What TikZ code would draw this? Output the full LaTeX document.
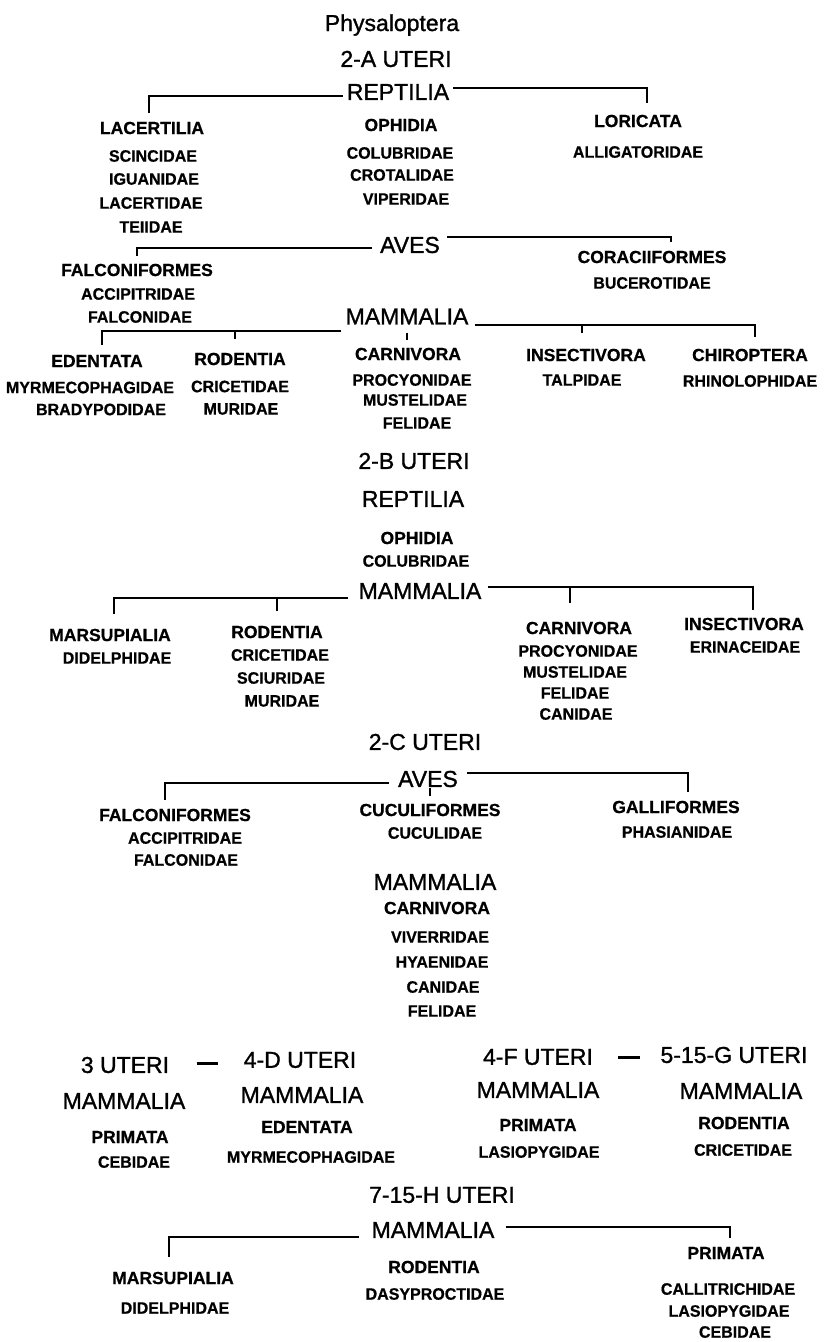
\documentclass[tikz,border=0pt]{standalone}
\usepackage{fontspec}
\setmainfont{Liberation Sans}
\newfontfamily\hdfont{Liberation Sans}[FakeBold=1.2]
\newfontfamily\ordfont{Liberation Sans}[FakeBold=0.7]
\newfontfamily\famfont{Liberation Sans}[FakeStretch=0.97,FakeBold=0.7]
\begin{document}
\begin{tikzpicture}[x=1pt,y=-1pt,
 hd/.style={font=\hdfont\fontsize{23}{25}\selectfont,inner sep=0pt},
 ordn/.style={font=\ordfont\bfseries\fontsize{17.5}{19}\selectfont,inner sep=0pt},
 fam/.style={font=\famfont\bfseries\fontsize{16.5}{18}\selectfont,inner sep=0pt},
 dsh/.style={inner sep=0pt},
 br/.style={line width=2pt},
]
\useasboundingbox[fill=white] (0,0) rectangle (823,1342);

% ---------- title / 2-A ----------
\node[hd,anchor=base] (title) at (392,31) {Physaloptera};
\node[hd] (uA) at (396,59) {2-A UTERI};
\node[hd] (repA) at (398,92) {REPTILIA};
\node[ordn] (lac) at (152,128) {LACERTILIA};
\node[fam] (scin) at (153,156) {SCINCIDAE};
\node[fam] (igu) at (154,179) {IGUANIDAE};
\node[fam] (lact) at (151,203) {LACERTIDAE};
\node[fam] (teii) at (151,227) {TEIIDAE};
\node[ordn] (oph) at (401,125) {OPHIDIA};
\node[fam] (colA) at (400,153) {COLUBRIDAE};
\node[fam] (crot) at (402,175) {CROTALIDAE};
\node[fam] (vip) at (406,199) {VIPERIDAE};
\node[ordn] (lor) at (638,121) {LORICATA};
\node[fam] (alli) at (638,152) {ALLIGATORIDAE};

\coordinate (rAl) at ([xshift=-4pt,yshift=-4pt]repA.west);
\coordinate (rAr) at ([xshift=4pt,yshift=4pt]repA.east);
\draw[br,shorten >=9pt] (rAl) -| ([xshift=-3pt]lac.north);
\draw[br,shorten >=12pt] (rAr) -| ([xshift=9pt]lor.north);

\node[hd] (avA) at (410,245) {AVES};
\node[ordn] (faA) at (137,270) {FALCONIFORMES};
\node[fam] (accA) at (138,294) {ACCIPITRIDAE};
\node[fam] (flcA) at (140,317) {FALCONIDAE};
\node[ordn] (cor) at (652,257) {CORACIIFORMES};
\node[fam] (buc) at (652,283) {BUCEROTIDAE};

\coordinate (aAl) at ([xshift=-8pt,yshift=-3pt]avA.west);
\coordinate (aAr) at ([xshift=7pt,yshift=8pt]avA.east);
\draw[br,shorten >=8pt] (aAl) -| (faA.north);
\draw[br,shorten >=9pt] (aAr) -| ([xshift=19pt]cor.north);

\node[hd] (mamA) at (407,316.5) {MAMMALIA};
\node[ordn] (ede) at (97,361) {EDENTATA};
\node[fam] (myr) at (90,387.5) {MYRMECOPHAGIDAE};
\node[fam] (bra) at (101,409.5) {BRADYPODIDAE};
\node[ordn] (rodA) at (240,359) {RODENTIA};
\node[fam] (criA) at (240,386.5) {CRICETIDAE};
\node[fam] (murA) at (241,409) {MURIDAE};
\node[ordn] (carA) at (408,354) {CARNIVORA};
\node[fam] (proA) at (412,380) {PROCYONIDAE};
\node[fam] (musA) at (415,400) {MUSTELIDAE};
\node[fam] (felA) at (417,423) {FELIDAE};
\node[ordn] (insA) at (586,355) {INSECTIVORA};
\node[fam] (tal) at (582,380) {TALPIDAE};
\node[ordn] (chi) at (750,355) {CHIROPTERA};
\node[fam] (rhi) at (750,381) {RHINOLOPHIDAE};

\coordinate (mAl) at ([xshift=-4pt,yshift=-14.5pt]mamA.west);
\coordinate (mAr) at ([xshift=6pt,yshift=-8.5pt]mamA.east);
\draw[br,shorten >=10pt] (mAl) -| ([xshift=5pt]ede.north);
\draw[br,shorten >=14pt] ([xshift=-5pt]rodA.north |- mAl) -- ([xshift=-5pt]rodA.north);
\draw[br,shorten <=8pt,shorten >=8pt] ([xshift=-1pt]carA.north |- mamA.south) -- ([xshift=-1pt]carA.north);
\draw[br,shorten >=12pt] (mAr) -| ([xshift=5pt]chi.north);
\draw[br,shorten >=16pt] ([xshift=-4pt]insA.north |- mAr) -- ([xshift=-4pt]insA.north);

% ---------- 2-B ----------
\node[hd] (uB) at (414,461) {2-B UTERI};
\node[hd] (repB) at (413,499) {REPTILIA};
\node[ordn] (ophB) at (417,538) {OPHIDIA};
\node[fam] (colB) at (416,561) {COLUBRIDAE};
\node[hd] (mamB) at (420,591) {MAMMALIA};
\node[ordn] (mar) at (110,635) {MARSUPIALIA};
\node[fam] (didB) at (117,658) {DIDELPHIDAE};
\node[ordn] (rodB) at (277,632) {RODENTIA};
\node[fam] (criB) at (280,655) {CRICETIDAE};
\node[fam] (sci) at (281,678) {SCIURIDAE};
\node[fam] (murB) at (282,701) {MURIDAE};
\node[ordn] (carB) at (579,628) {CARNIVORA};
\node[fam] (proB) at (578,651) {PROCYONIDAE};
\node[fam] (musB) at (575,672) {MUSTELIDAE};
\node[fam] (felB) at (575,693) {FELIDAE};
\node[fam] (canB) at (576,714) {CANIDAE};
\node[ordn] (insB) at (744,624) {INSECTIVORA};
\node[fam] (eri) at (745,647) {ERINACEIDAE};

\coordinate (mBl) at ([xshift=-10pt,yshift=-7pt]mamB.west);
\coordinate (mBr) at ([xshift=6pt,yshift=4pt]mamB.east);
\draw[br,shorten >=15pt] (mBl) -| ([xshift=4pt]mar.north);
\draw[br,shorten >=15pt] (rodB.north |- mBl) -- (rodB.north);
\draw[br,shorten >=8pt] (mBr) -| ([xshift=9pt]insB.north);
\draw[br,shorten >=19pt] ([xshift=-9pt]carB.north |- mBr) -- ([xshift=-9pt]carB.north);

% ---------- 2-C ----------
\node[hd] (uC) at (425,742) {2-C UTERI};
\node[hd] (avC) at (428,779) {AVES};
\node[ordn] (faC) at (175,815) {FALCONIFORMES};
\node[fam] (accC) at (185,838) {ACCIPITRIDAE};
\node[fam] (flcC) at (186,860) {FALCONIDAE};
\node[ordn] (cuc) at (430,810) {CUCULIFORMES};
\node[fam] (cucd) at (435,833) {CUCULIDAE};
\node[ordn] (gal) at (676,807) {GALLIFORMES};
\node[fam] (pha) at (677,832) {PHASIANIDAE};
\node[hd] (mamC) at (435,882) {MAMMALIA};
\node[ordn] (carC) at (437,908) {CARNIVORA};
\node[fam] (viv) at (440,937) {VIVERRIDAE};
\node[fam] (hya) at (442,962) {HYAENIDAE};
\node[fam] (canC) at (443,987) {CANIDAE};
\node[fam] (felC) at (442,1011) {FELIDAE};

\coordinate (cAl) at ([xshift=-9pt,yshift=-4pt]avC.west);
\coordinate (cAr) at ([xshift=9pt,yshift=6pt]avC.east);
\draw[br,shorten >=9pt] (cAl) -| ([xshift=-10pt]faC.north);
\draw[br,shorten >=9pt] (cAr) -| ([xshift=12pt]gal.north);
\draw[br,shorten <=1pt,shorten >=8pt] (cuc.north |- avC.south) -- (cuc.north);

% ---------- 3 / 4-D / 4-F / 5-15-G ----------
\node[hd] (u3) at (125,1065) {3 UTERI};
\node[dsh] (d1) at (207,1063) {\rule{21pt}{3pt}};
\node[hd] (u4D) at (300,1060) {4-D UTERI};
\node[hd] (u4F) at (538,1057) {4-F UTERI};
\node[dsh] (d2) at (629,1057) {\rule{22pt}{3pt}};
\node[hd] (u5G) at (734,1055) {5-15-G UTERI};
\node[hd] (m1) at (124,1101) {MAMMALIA};
\node[hd] (m2) at (302,1095) {MAMMALIA};
\node[hd] (m3) at (538,1090) {MAMMALIA};
\node[hd] (m4) at (741,1091) {MAMMALIA};
\node[ordn] (pr1) at (130,1137) {PRIMATA};
\node[fam] (ceb1) at (134,1162) {CEBIDAE};
\node[ordn] (ed2) at (307,1127) {EDENTATA};
\node[fam] (myr2) at (311,1157) {MYRMECOPHAGIDAE};
\node[ordn] (pr3) at (538,1125) {PRIMATA};
\node[fam] (las3) at (539,1152) {LASIOPYGIDAE};
\node[ordn] (rod4) at (744,1123) {RODENTIA};
\node[fam] (cri4) at (743,1150) {CRICETIDAE};

% ---------- 7-15-H ----------
\node[hd] (uH) at (442,1195) {7-15-H UTERI};
\node[hd] (mamH) at (433,1230) {MAMMALIA};
\node[ordn] (prH) at (726,1253) {PRIMATA};
\node[ordn] (marH) at (173,1278) {MARSUPIALIA};
\node[fam] (didH) at (175,1308) {DIDELPHIDAE};
\node[ordn] (rodH) at (434,1267) {RODENTIA};
\node[fam] (dasH) at (435,1294) {DASYPROCTIDAE};
\node[fam] (calH) at (728,1289) {CALLITRICHIDAE};
\node[fam] (lasH) at (729,1311) {LASIOPYGIDAE};
\node[fam] (cebH) at (735,1332) {CEBIDAE};

\coordinate (hl) at ([xshift=-12pt,yshift=-7pt]mamH.west);
\coordinate (hr) at ([xshift=11pt,yshift=3pt]mamH.east);
\draw[br,shorten >=15pt] (hl) -| ([xshift=-4pt]marH.north);
\draw[br,shorten >=9pt] (hr) -| ([xshift=4pt]prH.north);
\end{tikzpicture}
\end{document}
